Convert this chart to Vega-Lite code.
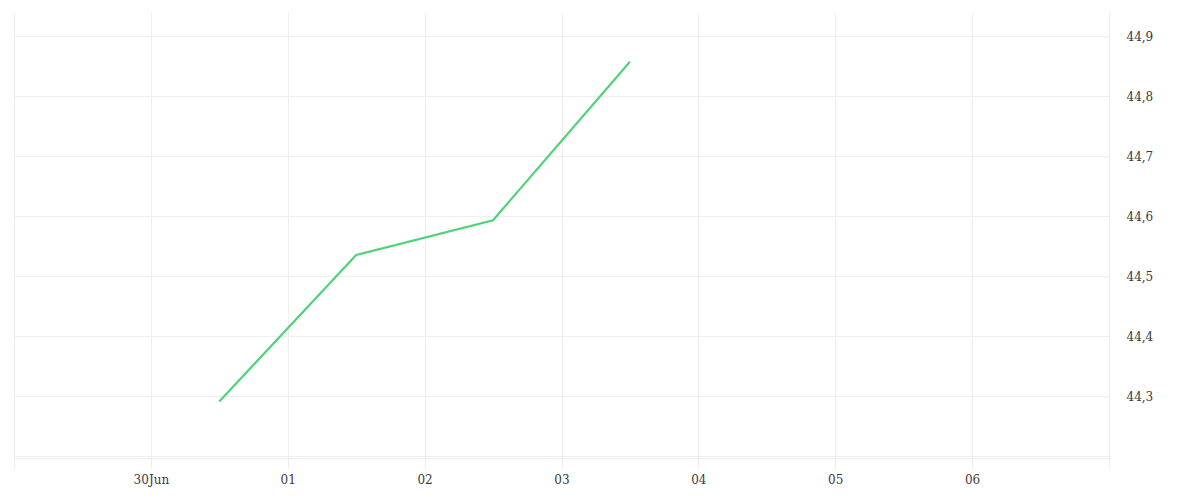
{
  "$schema": "https://vega.github.io/schema/vega-lite/v6.json",
  "width": 1095,
  "height": 446,
  "padding": {"left": 13, "top": 12, "right": 5, "bottom": 5},
  "background": "white",
  "config": {"view": {"stroke": null}},
  "data": {"values": [
    {"date": "2024-06-30T12:00:00Z", "value": 44.291},
    {"date": "2024-07-01T12:00:00Z", "value": 44.535},
    {"date": "2024-07-02T12:00:00Z", "value": 44.593},
    {"date": "2024-07-03T12:00:00Z", "value": 44.857}
  ]},
  "mark": {"type": "line", "color": "#4ed376", "strokeWidth": 2.2, "interpolate": "linear"},
  "encoding": {
    "x": {
      "field": "date", "type": "temporal", "timeUnit": "utcyearmonthdatehoursminutes",
      "scale": {"domain": [{"year": 2024, "month": 6, "date": 29, "utc": true}, {"year": 2024, "month": 7, "date": 7, "utc": true}], "nice": false},
      "axis": {
        "title": null,
        "values": [
          {"year": 2024, "month": 6, "date": 29, "utc": true},
          {"year": 2024, "month": 6, "date": 30, "utc": true},
          {"year": 2024, "month": 7, "date": 1, "utc": true},
          {"year": 2024, "month": 7, "date": 2, "utc": true},
          {"year": 2024, "month": 7, "date": 3, "utc": true},
          {"year": 2024, "month": 7, "date": 4, "utc": true},
          {"year": 2024, "month": 7, "date": 5, "utc": true},
          {"year": 2024, "month": 7, "date": 6, "utc": true},
          {"year": 2024, "month": 7, "date": 7, "utc": true}
        ],
        "labelExpr": "utcdate(datum.value) == 29 || utcdate(datum.value) == 7 ? '' : (utcdate(datum.value) == 30 ? '30Jun' : utcFormat(datum.value, '%d'))",
        "grid": true, "gridColor": "#eeeeee", "gridWidth": 1,
        "ticks": true, "tickColor": "#eeeeee", "tickSize": 10,
        "domain": true, "domainColor": "#eeeeee",
        "labelFont": "DejaVu Serif", "labelFontSize": 12, "labelColor": "#3a3a3a",
        "labelPadding": 6, "labelFlush": false, "labelOverlap": false
      }
    },
    "y": {
      "field": "value", "type": "quantitative",
      "scale": {"domain": [44.1967, 44.94], "nice": false, "zero": false},
      "axis": {
        "orient": "right", "title": null,
        "values": [44.2, 44.3, 44.4, 44.5, 44.6, 44.7, 44.8, 44.9],
        "labelExpr": "datum.value < 44.25 ? '' : replace(format(datum.value, '.1f'), '.', ',')",
        "grid": true, "gridColor": "#eeeeee", "gridWidth": 1,
        "ticks": false, "domain": true, "domainColor": "#eeeeee",
        "labelFont": "DejaVu Serif", "labelFontSize": 12, "labelColor": "#3a3a3a",
        "labelPadding": 17, "labelFlush": false, "labelOverlap": false
      }
    }
  }
}
